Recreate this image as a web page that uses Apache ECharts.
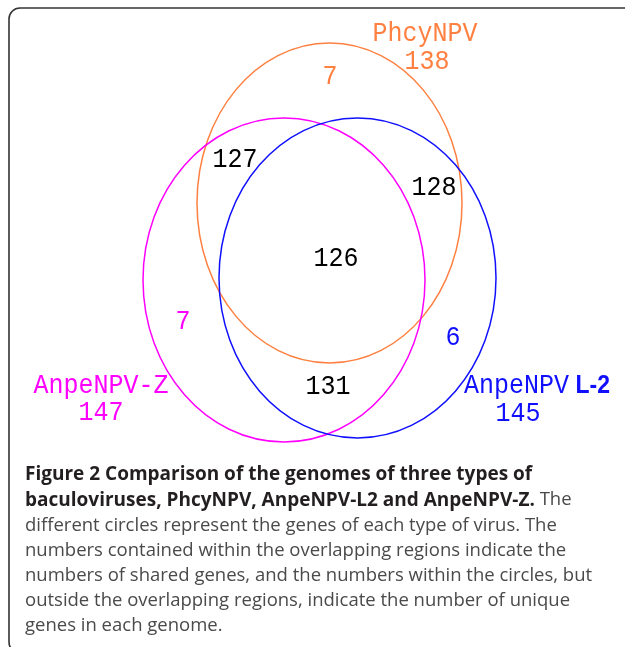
<!DOCTYPE html>
<html>
<head>
<meta charset="utf-8">
<script src="https://cdn.jsdelivr.net/npm/echarts@6/dist/echarts.min.js"></script>
<style>
html,body{margin:0;padding:0;background:#fff;}
#chart{width:625px;height:647px;}
</style>
</head>
<body>
<div id="chart"></div>
<script>
// ---- data ----
const setNames = ['PhcyNPV', 'AnpeNPV-Z', 'AnpeNPV L-2'];
const setTotals = [138, 147, 145];
const regionNames = ['PhcyNPV only', 'AnpeNPV-Z only', 'AnpeNPV-L2 only',
  'PhcyNPV & AnpeNPV-Z', 'PhcyNPV & AnpeNPV-L2', 'AnpeNPV-Z & AnpeNPV-L2', 'All three'];
const regionCounts = [7, 7, 6, 127, 128, 131, 126];
const captionLines = [
  [{b: 'Figure 2 Comparison of the genomes of three types of'}],
  [{b: 'baculoviruses, PhcyNPV, AnpeNPV-L2 and AnpeNPV-Z.'}, {r: ' The'}],
  [{r: 'different circles represent the genes of each type of virus. The'}],
  [{r: 'numbers contained within the overlapping regions indicate the'}],
  [{r: 'numbers of shared genes, and the numbers within the circles, but'}],
  [{r: 'outside the overlapping regions, indicate the number of unique'}],
  [{r: 'genes in each genome.'}]
];

// ---- layout / style ----
const setColors = ['#FF8040', '#FF00FF', '#1010FF'];
const ellipseLayout = [
  {cx: 329.5, cy: 203, rx: 132.5, ry: 160},
  {cx: 284, cy: 280, rx: 141, ry: 162},
  {cx: 357.5, cy: 278, rx: 138.5, ry: 160}
];
const setLabelPos = [
  {name: [425, 34], total: [427, 62]},
  {name: [101, 386], total: [101, 413]},
  {name: [537, 386], total: [518, 414]}
];
const regionLabelPos = [[330, 77], [183, 322], [453, 338], [235, 160], [434, 188], [328, 387], [336, 259]];
const regionColors = ['#FF8040', '#FF00FF', '#1010FF', '#000', '#000', '#000', '#000'];
const labelFont = '"Liberation Mono", monospace';

const chart = echarts.init(document.getElementById('chart'), null, {renderer: 'canvas'});

const captionGraphics = captionLines.map(function (parts, li) {
  let txt = parts.map(function (p) {
    return p.b !== undefined ? '{b|' + p.b + '}' : '{r|' + p.r + '}';
  }).join('');
  return {
    type: 'text',
    left: 25,
    top: 465.5 + li * 25.2,
    silent: true,
    style: {
      text: txt,
      rich: {
        b: {fontFamily: '"Open Sans"', fontWeight: 'bold', fontSize: 19, fill: '#231f20'},
        r: {fontFamily: '"Open Sans"', fontWeight: 'normal', fontSize: 18.5, fill: '#4a4a4a'}
      }
    }
  };
});

const borderStyle = {fill: 'none', stroke: '#333', lineWidth: 1.6};
const borderGraphics = [
  {type: 'line', silent: true, shape: {x1: 9, y1: 19, x2: 9, y2: 642}, style: borderStyle},
  {type: 'line', silent: true, shape: {x1: 20, y1: 8, x2: 660, y2: 8}, style: borderStyle},
  {type: 'arc', silent: true, shape: {cx: 20, cy: 19, r: 11, startAngle: Math.PI, endAngle: Math.PI * 1.5, clockwise: true}, style: borderStyle},
  {type: 'arc', silent: true, shape: {cx: 20, cy: 642, r: 11, startAngle: Math.PI * 0.5, endAngle: Math.PI, clockwise: true}, style: borderStyle}
];

chart.setOption({
  animation: false,
  grid: {left: 0, right: 0, top: 0, bottom: 0},
  xAxis: {type: 'value', min: 0, max: 625, show: false},
  yAxis: {type: 'value', min: 0, max: 647, inverse: true, show: false},
  graphic: borderGraphics.concat(captionGraphics),
  series: [
    {
      type: 'custom', name: 'sets', silent: true,
      data: setTotals.map(function (t, i) { return [i, t]; }),
      renderItem: function (params, api) {
        const i = params.dataIndex;
        const g = ellipseLayout[i];
        const c = api.coord([g.cx, g.cy]);
        const s = api.size([g.rx, g.ry]);
        const lp = setLabelPos[i];
        const pn = api.coord(lp.name);
        const pt = api.coord(lp.total);
        let rich = {n: {fontFamily: labelFont, fontSize: 25, fill: setColors[i]},
                    bb: {fontFamily: '"Liberation Sans"', fontSize: 23, fontWeight: 'bold', fill: setColors[i]}};
        let nameText;
        if (i === 2) nameText = '{n|AnpeNPV}{bb| L-2}';
        else nameText = '{n|' + setNames[i] + '}';
        return {
          type: 'group',
          children: [
            {type: 'ellipse', shape: {cx: c[0], cy: c[1], rx: s[0], ry: s[1]},
             style: {fill: 'none', stroke: setColors[i], lineWidth: 1.5}},
            {type: 'text', x: pn[0], y: pn[1], scaleY: 1.12,
             style: {text: nameText, rich: rich, align: 'center', verticalAlign: 'middle'}},
            {type: 'text', x: pt[0], y: pt[1], scaleY: 1.12,
             style: {text: String(setTotals[i]), fontFamily: labelFont, fontSize: 25,
                     fill: setColors[i], align: 'center', verticalAlign: 'middle'}}
          ]
        };
      }
    },
    {
      type: 'custom', name: 'regions', silent: true,
      data: regionCounts.map(function (v, i) { return [i, v]; }),
      renderItem: function (params, api) {
        const i = params.dataIndex;
        const p = api.coord(regionLabelPos[i]);
        return {
          type: 'text', x: p[0], y: p[1], scaleY: 1.12,
          style: {text: String(regionCounts[i]), fontFamily: labelFont, fontSize: 25,
                  fill: regionColors[i], align: 'center', verticalAlign: 'middle'}
        };
      }
    }
  ]
});
</script>
</body>
</html>
